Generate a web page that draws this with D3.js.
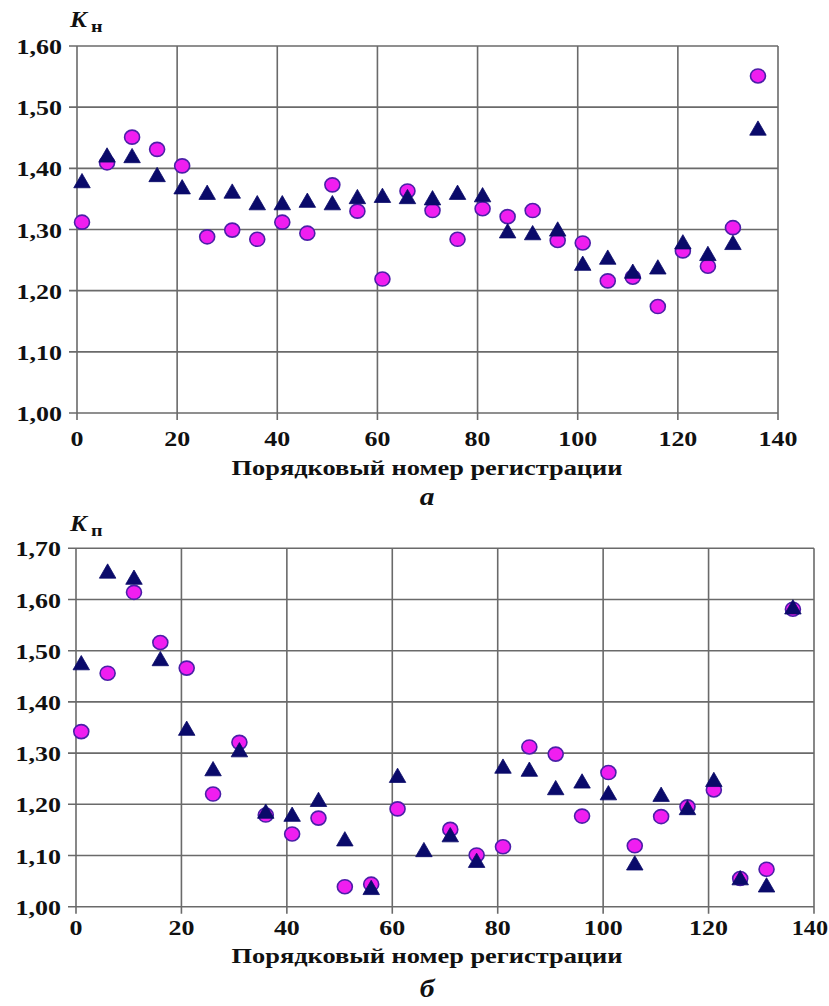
<!DOCTYPE html>
<html>
<head>
<meta charset="utf-8">
<script src="https://cdn.jsdelivr.net/npm/d3@7"></script>
<style>
  body { margin: 0; background: #fff; }
  svg text { font-family: "Liberation Serif", "Times New Roman", serif; font-weight: bold; fill: #111; }
</style>
</head>
<body>
<div id="chart"></div>
<script>
// registration numbers (x positions of the points)
const regNumbers = [1, 6, 11, 16, 21, 26, 31, 36, 41, 46, 51, 56, 61, 66, 71, 76, 81, 86, 91, 96, 101, 106, 111, 116, 121, 126, 131, 136];

// panel a: K_н
const knTriangles = [1.376, 1.418, 1.417, 1.386, 1.366, 1.357, 1.359, 1.340, 1.340, 1.344, 1.340, 1.350, 1.352, 1.350, 1.348, 1.357, 1.353, 1.294, 1.291, 1.297, 1.241, 1.251, 1.228, 1.235, 1.276, 1.257, 1.275, 1.462];
const knCircles = [1.312, 1.409, 1.451, 1.431, 1.404, 1.288, 1.299, 1.284, 1.312, 1.294, 1.373, 1.330, 1.219, 1.363, 1.331, 1.284, 1.334, 1.321, 1.331, 1.282, 1.278, 1.216, 1.222, 1.174, 1.265, 1.240, 1.303, 1.551];

// panel б: K_п
const kpTriangles = [1.472, 1.651, 1.639, 1.480, 1.344, 1.265, 1.302, 1.182, 1.176, 1.205, 1.128, 1.033, 1.252, 1.107, 1.136, 1.086, 1.270, 1.264, 1.228, 1.241, 1.218, 1.081, 1.215, 1.189, 1.244, 1.052, 1.038, 1.581];
const kpCircles = [1.342, 1.456, 1.614, 1.516, 1.466, 1.220, 1.321, 1.179, 1.142, 1.173, 1.039, 1.044, 1.191, null, 1.151, 1.101, 1.117, 1.312, 1.298, 1.177, 1.262, 1.119, 1.176, 1.195, 1.228, 1.055, 1.073, 1.581];

const xTicks = [0, 20, 40, 60, 80, 100, 120, 140];
const knTicks = [1.0, 1.1, 1.2, 1.3, 1.4, 1.5, 1.6];
const kpTicks = [1.0, 1.1, 1.2, 1.3, 1.4, 1.5, 1.6, 1.7];

const xTitle = "Порядковый номер регистрации";

const W = 829, H = 1006;
const stretch = 1.18; // the picture's text is wider than plain Times

const svg = d3.select("#chart").append("svg").attr("width", W).attr("height", H);

function wideText(g, x, y, str, size, anchor, italic, sx) {
  return g.append("text")
    .attr("transform", `translate(${x},${y}) scale(${sx || stretch},1)`)
    .attr("text-anchor", anchor)
    .style("font-size", size + "px")
    .style("font-style", italic ? "italic" : "normal")
    .text(str);
}

const fmt = (v) => v.toFixed(2).replace(".", ",");

function drawPanel(p) {
  const x = d3.scaleLinear().domain([0, 140]).range([p.left, p.right]);
  const y = d3.scaleLinear().domain(p.domain).range([p.bottom, p.top]);
  const g = svg.append("g");

  // grid
  g.selectAll(".hgrid").data(p.yTicks).join("line")
    .attr("x1", p.left - 8).attr("x2", p.right)
    .attr("y1", (d) => y(d)).attr("y2", (d) => y(d))
    .attr("stroke", "#6a6a6a").attr("stroke-width", 1.6);
  g.selectAll(".vgrid").data(xTicks).join("line")
    .attr("x1", (d) => x(d)).attr("x2", (d) => x(d))
    .attr("y1", p.top).attr("y2", p.bottom + 7)
    .attr("stroke", "#6a6a6a").attr("stroke-width", 1.6);

  // tick labels
  p.yTicks.forEach((t) => wideText(g, p.left - 15, y(t) + 8, fmt(t), 22, "end"));
  xTicks.forEach((t) => {
    // last label would run off the right edge: keep it inside
    if (x(t) + 20 > W) wideText(g, W - 1, p.xTickBase, t, 22, "end", false, 1.1);
    else wideText(g, x(t), p.xTickBase, t, 22, "middle");
  });

  // axis title and panel letter
  wideText(g, 427, p.titleBase, xTitle, 22, "middle", false, 1.2);
  wideText(g, 427, p.letterBase, p.letter, 25, "middle", true);

  // y label K with subscript
  wideText(g, 70, p.kBase, "K", 23, "start", true, 1.1);
  wideText(g, 91, p.kBase + 5, p.sub, 17, "start");

  // circles first, triangles on top
  const circles = regNumbers.map((r, i) => ({ r, v: p.circles[i] })).filter((d) => d.v != null);
  g.selectAll(".dot").data(circles).join("ellipse")
    .attr("cx", (d) => x(d.r)).attr("cy", (d) => y(d.v))
    .attr("rx", 7.5).attr("ry", 7)
    .attr("fill", "#f01ef0").attr("stroke", "#4b1fa8").attr("stroke-width", 1.6);

  const tri = d3.symbol(d3.symbolTriangle, 118);
  g.selectAll(".tri").data(regNumbers.map((r, i) => ({ r, v: p.triangles[i] }))).join("path")
    .attr("d", tri)
    .attr("transform", (d) => `translate(${x(d.r)},${y(d.v)})`)
    .attr("fill", "#0a0a6a").attr("stroke", "#0a0a6a").attr("stroke-width", 0.8);
}

drawPanel({
  left: 77, right: 778, top: 46, bottom: 413, domain: [1.0, 1.6], yTicks: knTicks,
  triangles: knTriangles, circles: knCircles,
  xTickBase: 446, titleBase: 475, letterBase: 505, letter: "а", kBase: 27, sub: "н"
});

drawPanel({
  left: 76, right: 814, top: 548.3, bottom: 906.7, domain: [1.0, 1.7], yTicks: kpTicks,
  triangles: kpTriangles, circles: kpCircles,
  xTickBase: 935, titleBase: 963, letterBase: 997, letter: "б", kBase: 531, sub: "п"
});
</script>
</body>
</html>
